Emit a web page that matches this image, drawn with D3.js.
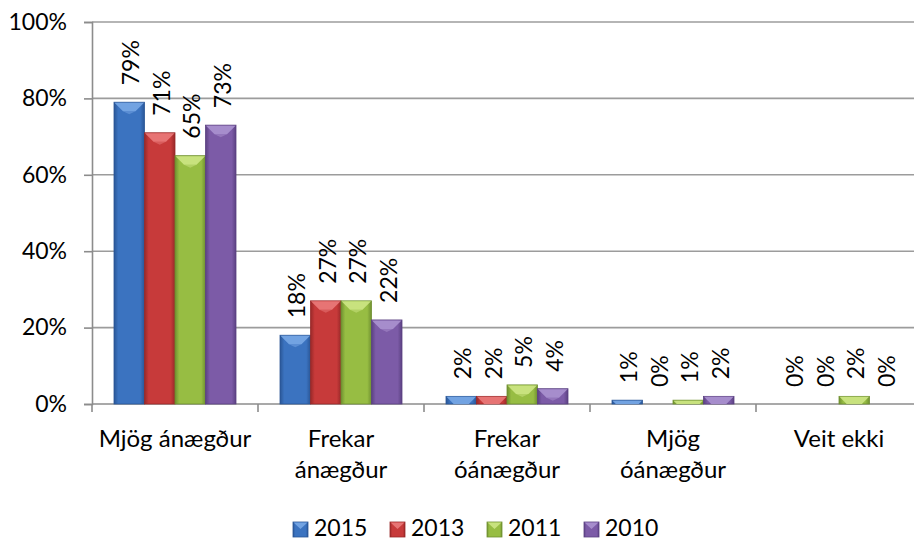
<!DOCTYPE html>
<html>
<head>
<meta charset="utf-8">
<script src="https://cdn.jsdelivr.net/npm/d3@7"></script>
<style>
  html, body { margin: 0; padding: 0; background: #fff; }
  svg { display: block; font-family: Lato, "Open Sans", sans-serif; }
</style>
</head>
<body>
<svg id="chart" width="914" height="540"></svg>
<script>
const categories = ["Mjög ánægður", "Frekar\nánægður", "Frekar\nóánægður", "Mjög\nóánægður", "Veit ekki"];
const seriesNames = ["2015", "2013", "2011", "2010"];
const values2015 = [79, 18, 2, 1, 0];
const values2013 = [71, 27, 2, 0, 0];
const values2011 = [65, 27, 5, 1, 2];
const values2010 = [73, 22, 4, 2, 0];
const yTicks = [0, 20, 40, 60, 80, 100];

const seriesValues = [values2015, values2013, values2011, values2010];
const colors = [
  { base: "#3b73c0", edge: "#2a5696", top: "#79a8e6" },
  { base: "#c73a3a", edge: "#982828", top: "#ea7b7b" },
  { base: "#97bd43", edge: "#6f9030", top: "#cde585" },
  { base: "#7c5ba7", edge: "#5b4182", top: "#ab92d0" }
];

const svg = d3.select("#chart");
const x0 = d3.scaleBand().domain(d3.range(categories.length)).range([92, 922]).paddingInner(0).paddingOuter(0);
const x1 = d3.scaleBand().domain(d3.range(seriesNames.length)).range([22, 166 - 22]).padding(0);
const y = d3.scaleLinear().domain([0, 100]).range([404, 22]);

// gradients
const defs = svg.append("defs");
colors.forEach((c, i) => {
  const g = defs.append("linearGradient").attr("id", "g" + i).attr("x1", 0).attr("x2", 1).attr("y1", 0).attr("y2", 0);
  g.append("stop").attr("offset", "0%").attr("stop-color", c.edge);
  g.append("stop").attr("offset", "14%").attr("stop-color", c.base);
  g.append("stop").attr("offset", "86%").attr("stop-color", c.base);
  g.append("stop").attr("offset", "100%").attr("stop-color", c.edge);
});

// gridlines
svg.append("g").selectAll("line").data(yTicks.filter(d => d > 0)).join("line")
  .attr("x1", 92).attr("x2", 914)
  .attr("y1", d => y(d)).attr("y2", d => y(d))
  .attr("stroke", "#9c9c9c").attr("stroke-width", 1.6);

// y axis
const yAxis = svg.append("g").attr("transform", "translate(92,0)")
  .call(d3.axisLeft(y).tickValues(yTicks).tickFormat(d => d + "%").tickSize(8).tickPadding(17));
yAxis.select(".domain").attr("stroke", "#8c8c8c").attr("stroke-width", 1.6);
yAxis.selectAll(".tick line").attr("stroke", "#8c8c8c").attr("stroke-width", 1.6);
yAxis.selectAll(".tick text").attr("font-size", 23).attr("fill", "#000").attr("font-family", "Lato");

// x axis line and ticks
svg.append("line").attr("x1", 92).attr("x2", 914).attr("y1", y(0)).attr("y2", y(0))
  .attr("stroke", "#8c8c8c").attr("stroke-width", 1.6);
svg.append("g").selectAll("line").data(d3.range(categories.length + 1)).join("line")
  .attr("x1", d => 92 + d * x0.bandwidth()).attr("x2", d => 92 + d * x0.bandwidth())
  .attr("y1", y(0)).attr("y2", y(0) + 8)
  .attr("stroke", "#8c8c8c").attr("stroke-width", 1.6);

// category labels
const catG = svg.append("g").selectAll("text").data(categories).join("text")
  .attr("x", (d, i) => x0(i) + x0.bandwidth() / 2)
  .attr("y", 447)
  .attr("text-anchor", "middle").attr("font-size", 24).attr("fill", "#000");
catG.each(function(d) {
  const t = d3.select(this);
  d.split("\n").forEach((line, k) => {
    t.append("tspan").attr("x", t.attr("x")).attr("dy", k === 0 ? 0 : 31).text(line);
  });
});

// bars
const data = [];
seriesValues.forEach((vals, s) => vals.forEach((v, c) => data.push({ s, c, v })));

const barG = svg.append("g");
const bars = barG.selectAll("g").data(data).join("g");
bars.filter(d => d.v > 0).append("rect")
  .attr("x", d => x0(d.c) + x1(d.s))
  .attr("y", d => y(d.v))
  .attr("width", x1.bandwidth())
  .attr("height", d => y(0) - y(d.v))
  .attr("fill", d => `url(#g${d.s})`)
  .attr("stroke", d => colors[d.s].edge).attr("stroke-width", 0.8);
bars.filter(d => d.v > 0).append("path")
  .attr("d", d => {
    const xl = x0(d.c) + x1(d.s), w = x1.bandwidth(), yt = y(d.v);
    const h = Math.min(9, y(0) - yt);
    const inset = Math.min(h, 9);
    return `M${xl + 0.5},${yt + 0.5} L${xl + w - 0.5},${yt + 0.5} L${xl + w - inset},${yt + h} L${xl + inset},${yt + h} Z`;
  })
  .attr("fill", d => colors[d.s].top).attr("opacity", 0.9);
bars.filter(d => d.v > 0).append("path")
  .attr("d", d => {
    const xl = x0(d.c) + x1(d.s), w = x1.bandwidth(), yt = y(d.v);
    const h = Math.min(9, y(0) - yt);
    return `M${xl + Math.min(h, 9)},${yt + h} L${xl + w / 2},${yt + Math.min(h + 3, y(0) - yt)} L${xl + w - Math.min(h, 9)},${yt + h} Z`;
  })
  .attr("fill", d => colors[d.s].top).attr("opacity", 0.5);

// data labels
svg.append("g").selectAll("text").data(data).join("text")
  .attr("transform", d => `translate(${x0(d.c) + x1(d.s) + x1.bandwidth() / 2 + 1},${y(d.v) - 17}) rotate(-90)`)
  .attr("text-anchor", "start").attr("dominant-baseline", "central")
  .attr("font-size", 23).attr("fill", "#000")
  .text(d => d.v + "%");

// legend
const legend = svg.append("g").selectAll("g").data(seriesNames).join("g")
  .attr("transform", (d, i) => `translate(${293 + i * 97},522)`);
legend.append("rect").attr("width", 15).attr("height", 15)
  .attr("fill", (d, i) => `url(#g${i})`).attr("stroke", (d, i) => colors[i].edge).attr("stroke-width", 0.8);
legend.append("path").attr("d", "M0.5,0.5 L14.5,0.5 L7.5,7 Z").attr("fill", (d, i) => colors[i].top).attr("opacity", 0.9);
legend.append("text").attr("x", 21).attr("y", 14).attr("font-size", 23).attr("fill", "#000").text(d => d);
</script>
</body>
</html>
